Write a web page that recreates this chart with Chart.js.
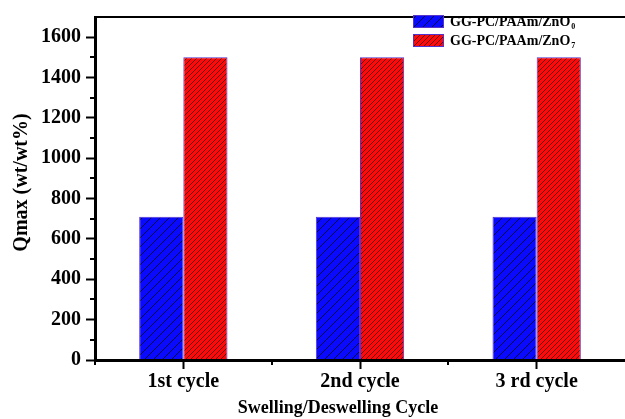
<!DOCTYPE html>
<html>
<head>
<meta charset="utf-8">
<script src="https://cdn.jsdelivr.net/npm/chart.js@4.4.0/dist/chart.umd.min.js"></script>
<style>
  html, body { margin: 0; padding: 0; background: #fff; }
  canvas { display: block; }
</style>
</head>
<body>
<canvas id="chart" width="625" height="419"></canvas>
<script>
/* ---------- data ---------- */
const categories   = ["1st cycle", "2nd cycle", "3 rd cycle"];
const seriesBase   = ["GG-PC/PAAm/ZnO", "GG-PC/PAAm/ZnO"];
const seriesSub    = ["0", "7"];
const zno0Values   = [710, 710, 710];
const zno7Values   = [1500, 1500, 1500];
const yTicks       = [0, 200, 400, 600, 800, 1000, 1200, 1400, 1600];
const yMinorTicks  = [100, 300, 500, 700, 900, 1100, 1300, 1500];
const xTitle       = "Swelling/Deswelling Cycle";
const yTitle       = "Qmax (wt/wt%)";

/* ---------- helpers ---------- */
const SERIF = '"Liberation Serif", "Times New Roman", serif';

// solid fill with thin black "/" hatch lines
function hatch(color, step, alpha) {
    const c = document.createElement("canvas");
    c.width = c.height = step;
    const g = c.getContext("2d");
    g.fillStyle = color;
    g.fillRect(0, 0, step, step);
    g.strokeStyle = `rgba(0,0,0,${alpha})`;
    g.lineWidth = 1;
    g.beginPath();
    g.moveTo(0, step); g.lineTo(step, 0);
    g.moveTo(-1, 1); g.lineTo(1, -1);
    g.moveTo(step - 1, step + 1); g.lineTo(step + 1, step - 1);
    g.stroke();
    return g.createPattern(c, "repeat");
}

const blueFill = hatch("#0a0aff", 9, 0.75);
const redFill  = hatch("#ff0a0a", 5, 0.6);
const edge     = "#5533cc";

/* ---------- extra drawing: frame line, minor ticks, titles, legend ---------- */
const decor = {
    id: "decor",
    afterDraw(chart) {
        const { ctx, chartArea: a, scales: { x, y } } = chart;
        ctx.save();

        // top frame line
        ctx.strokeStyle = "#000";
        ctx.lineWidth = 2;
        ctx.beginPath();
        ctx.moveTo(a.left, a.top);
        ctx.lineTo(chart.width, a.top);
        ctx.stroke();

        // minor ticks
        ctx.lineWidth = 2;
        ctx.beginPath();
        yMinorTicks.forEach(v => {
            const py = Math.round(y.getPixelForValue(v));
            ctx.moveTo(a.left - 5, py);
            ctx.lineTo(a.left, py);
        });
        for (let i = 0; i < categories.length; i++) {
            const px = Math.round(x.getPixelForValue(i - 0.5));
            ctx.moveTo(px, a.bottom);
            ctx.lineTo(px, a.bottom + 5);
        }
        ctx.stroke();

        // axis titles
        ctx.fillStyle = "#000";
        ctx.font = "bold 18px " + SERIF;
        ctx.textAlign = "center";
        ctx.textBaseline = "middle";
        ctx.fillText(xTitle, 338, 408);

        ctx.font = "bold 20px " + SERIF;
        ctx.translate(22, (a.top + a.bottom) / 2 - 6);
        ctx.rotate(-Math.PI / 2);
        ctx.fillText(yTitle, 0, 0);
        ctx.setTransform(1, 0, 0, 1, 0, 0);

        // legend
        const lx = 413, ly = [15, 34], bw = 31, bh = 13;
        chart.data.datasets.forEach((ds, i) => {
            ctx.fillStyle = ds.backgroundColor;
            ctx.fillRect(lx, ly[i], bw, bh);
            ctx.strokeStyle = edge;
            ctx.lineWidth = 1;
            ctx.strokeRect(lx + 0.5, ly[i] + 0.5, bw - 1, bh - 1);

            ctx.fillStyle = "#000";
            ctx.textAlign = "left";
            ctx.textBaseline = "alphabetic";
            ctx.font = "bold 14px " + SERIF;
            const base = seriesBase[i];
            ctx.fillText(base, lx + bw + 6, ly[i] + 11);
            const w = ctx.measureText(base).width;
            ctx.font = "bold 8px " + SERIF;
            ctx.fillText(seriesSub[i], lx + bw + 6 + w + 1, ly[i] + 14);
        });

        ctx.restore();
    }
};

/* ---------- chart ---------- */
new Chart(document.getElementById("chart"), {
    type: "bar",
    data: {
        labels: categories,
        datasets: [
            {
                label: seriesBase[0] + "\u2080",
                data: zno0Values,
                backgroundColor: blueFill,
                borderColor: edge,
                borderWidth: 1
            },
            {
                label: seriesBase[1] + "\u2087",
                data: zno7Values,
                backgroundColor: redFill,
                borderColor: edge,
                borderWidth: 1
            }
        ]
    },
    options: {
        responsive: false,
        devicePixelRatio: 1,
        animation: false,
        layout: { padding: { top: 13, right: 0, left: 0, bottom: 0 } },
        datasets: { bar: { categoryPercentage: 0.5, barPercentage: 1.0 } },
        plugins: {
            legend: { display: false },
            tooltip: { enabled: false }
        },
        scales: {
            x: {
                offset: true,
                afterFit: s => { s.height = 59; },
                grid: {
                    offset: false,
                    drawOnChartArea: false,
                    tickLength: 9,
                    tickWidth: 2,
                    tickColor: "#000"
                },
                border: { display: true, color: "#000", width: 3, z: 1 },
                ticks: {
                    color: "#000",
                    padding: 1,
                    font: { family: SERIF, size: 20, weight: "bold" }
                }
            },
            y: {
                min: 0,
                max: 1700,
                afterFit: s => { s.width = 95; },
                afterBuildTicks: s => { s.ticks = yTicks.map(v => ({ value: v })); },
                grid: {
                    drawOnChartArea: false,
                    tickLength: 9,
                    tickWidth: 2,
                    tickColor: "#000"
                },
                border: { display: true, color: "#000", width: 3, z: 1 },
                ticks: {
                    color: "#000",
                    padding: 5,
                    callback: v => String(v),
                    font: { family: SERIF, size: 20, weight: "bold" }
                }
            }
        }
    },
    plugins: [decor]
});
</script>
</body>
</html>
